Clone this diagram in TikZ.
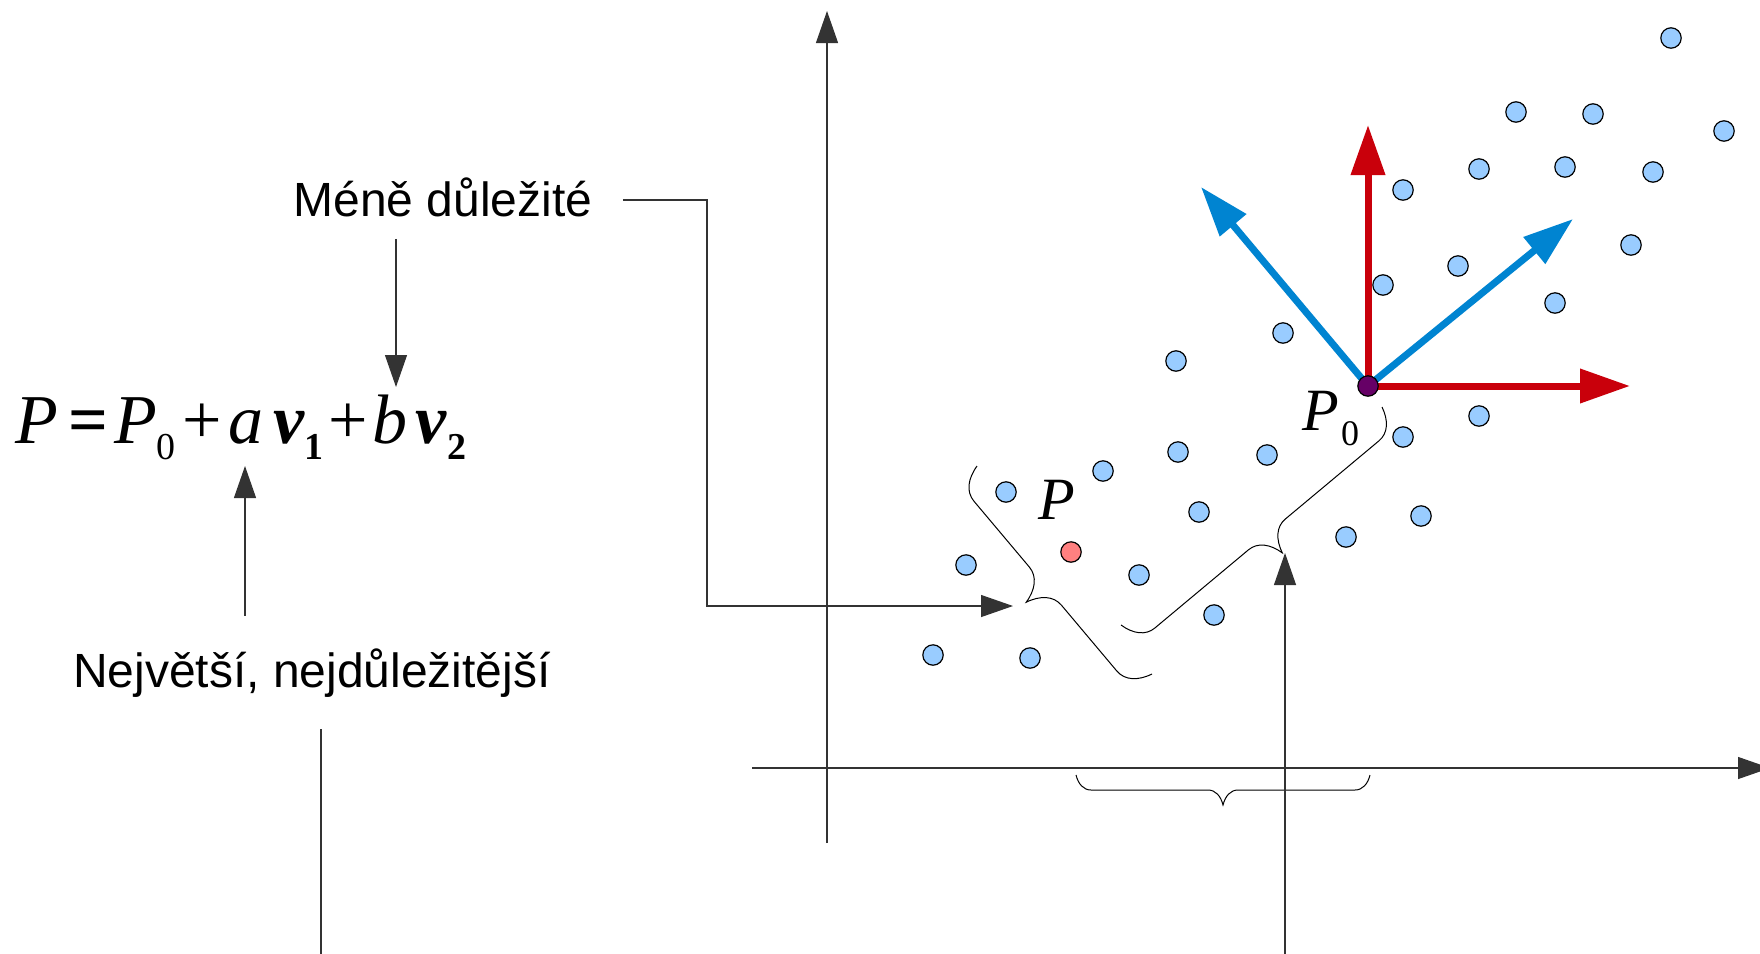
\documentclass[tikz,border=0pt]{standalone}
\usepackage{fontspec}
\setmainfont{Liberation Serif}
\setsansfont{Liberation Sans}
\usetikzlibrary{arrows.meta,decorations.pathreplacing}
\definecolor{dotblue}{HTML}{99CCFF}
\definecolor{dotred}{HTML}{FF8080}
\definecolor{dotpurple}{HTML}{660066}
\definecolor{vecred}{HTML}{C9000B}
\definecolor{vecblue}{HTML}{0084D1}
\newcommand{\eqsub}[2]{\raisebox{-#1}{\fontsize{19}{19}\selectfont #2}}

% brace with short curls (half the usual length)
\pgfdeclaredecoration{tightbrace}{brace}
{%
  \state{brace}[width=+\pgfdecoratedremainingdistance,next state=final]
  {%
    \pgfpathmoveto{\pgfpointorigin}%
    \pgfpathcurveto
    {\pgfqpoint{.075\pgfdecorationsegmentamplitude}{.3\pgfdecorationsegmentamplitude}}%
    {\pgfqpoint{.25\pgfdecorationsegmentamplitude}{.5\pgfdecorationsegmentamplitude}}%
    {\pgfqpoint{.5\pgfdecorationsegmentamplitude}{.5\pgfdecorationsegmentamplitude}}%
    {%
      \pgftransformxshift{+\pgfdecorationsegmentaspect\pgfdecoratedremainingdistance}%
      \pgfpathlineto{\pgfqpoint{-.5\pgfdecorationsegmentamplitude}{.5\pgfdecorationsegmentamplitude}}%
      \pgfpathcurveto
      {\pgfqpoint{-.25\pgfdecorationsegmentamplitude}{.5\pgfdecorationsegmentamplitude}}%
      {\pgfqpoint{-.075\pgfdecorationsegmentamplitude}{.7\pgfdecorationsegmentamplitude}}%
      {\pgfqpoint{0pt}{\pgfdecorationsegmentamplitude}}%
      \pgfpathcurveto
      {\pgfqpoint{.075\pgfdecorationsegmentamplitude}{.7\pgfdecorationsegmentamplitude}}%
      {\pgfqpoint{.25\pgfdecorationsegmentamplitude}{.5\pgfdecorationsegmentamplitude}}%
      {\pgfqpoint{.5\pgfdecorationsegmentamplitude}{.5\pgfdecorationsegmentamplitude}}%
    }%
    {%
      \pgftransformxshift{+\pgfdecoratedremainingdistance}%
      \pgfpathlineto{\pgfqpoint{-.5\pgfdecorationsegmentamplitude}{.5\pgfdecorationsegmentamplitude}}%
      \pgfpathcurveto
      {\pgfqpoint{-.25\pgfdecorationsegmentamplitude}{.5\pgfdecorationsegmentamplitude}}%
      {\pgfqpoint{-.075\pgfdecorationsegmentamplitude}{.3\pgfdecorationsegmentamplitude}}%
      {\pgfqpoint{0pt}{0pt}}%
    }%
  }%
  \state{final}{}%
}

\begin{document}
\begin{tikzpicture}[x=0.5pt,y=-0.5pt,
  pt/.style={circle,draw,line width=0.6pt,fill=dotblue,minimum size=10.2pt,inner sep=0pt},
  thin/.style={line width=0.6pt,black!80},
  arr/.style={thin,-{Triangle[length=16pt,width=11pt]}},
  vec/.style={line width=3.5pt,-{Triangle[length=25pt,width=16.5pt]}},
  bracelin/.style={line width=0.5pt,decorate,decoration={tightbrace,amplitude=#1}},
  word/.style={font=\sffamily\fontsize{24}{28}\selectfont,inner xsep=0pt,inner ysep=11pt}]
\useasboundingbox (0,0) rectangle (1760,953);

\draw[arr] (827,843) -- (827,11);
\draw[arr] (752,768) -- (1770,768);

\foreach \x/\y [count=\i] in {1671/38,1516/112,1593/114,1724/131,1479/169,1565/167,
  1653/172,1403/190,1631/245,1458/266,1383/285,1555/303,1283/333,1176/361,
  1479/416,1403/437,1178/452,1267/455,1103/471,1006/492,1199/512,1421/516,
  1346/537,966/565,1139/575,1214/615,933/655,1030/658}
  \node[pt] (d\i) at (\x,\y) {};
\node[pt,fill=dotred] (p) at (1071,552) {};

\coordinate (o) at (1368,386);
\coordinate (e1) at (1630,386);
\coordinate (e2) at (1368,125);
\coordinate (v1) at (1573,219);
\coordinate (v2) at (1201,187);
\draw[vec,vecred] (o) -- (e1);
\draw[vec,vecred] (o) -- (e2);
\draw[vec,vecblue] (o) -- (v1);
\draw[vec,vecblue] (o) -- (v2);
\node[pt,fill=dotpurple] (p0) at (o) {};

\node[font=\fontsize{30}{34}\selectfont\itshape] (lblp) at (1057,500) {P};
\node[font=\fontsize{30}{34}\selectfont,anchor=base west,inner sep=0pt] (lblp0) at (1302,430)
  {\textit{P}\hspace{1pt}\raisebox{-7.5pt}{\fontsize{18}{18}\selectfont 0}};

\draw[bracelin=25pt] (1152,674) -- (977,466);
\draw[bracelin=24pt] (1382,407) -- (1121,625);
\draw[bracelin=15pt] (1370,775) -- (1076,775);

\node[anchor=base west,inner sep=0pt,font=\fontsize{35}{40}\selectfont] (eqn) at (15,443)
  {\textit{P}\hspace{5pt}\textbf{=}\hspace{3pt}\textit{P}\eqsub{8pt}{0}\hspace{3.5pt}+\hspace{3pt}\textit{a}\hspace{5pt}\textbf{\textit{v}}\eqsub{8pt}{\textbf{1}}\hspace{2.5pt}+\hspace{2pt}\textit{b}\hspace{4pt}\textbf{\textit{v}}\eqsub{8pt}{\textbf{2}}};

\node[word,anchor=base] (mene) at (443,216) {Méně důležité};
\node[word,anchor=base,inner ysep=16pt] (nej) at (312,687) {Největší, nejdůležitější};

\coordinate (amark) at (245,466);
\coordinate (bmark) at (396,387);
\coordinate (bend) at (707,606);
\coordinate (tipL) at (1013,606);
\coordinate (tipR) at (1285,553);
\coordinate (rlow) at (1285,960);
\coordinate (llow) at (321,960);

\draw[arr] (mene.south -| bmark) -- (bmark);
\draw[arr] (nej.north -| amark) -- (amark);
\draw[arr] ([shift={(15pt,8pt)}]mene.base east) -| (bend) -- (tipL);
\draw[arr] (rlow) -- (tipR);
\draw[thin] (nej.south -| llow) -- (llow);
\end{tikzpicture}
\end{document}
